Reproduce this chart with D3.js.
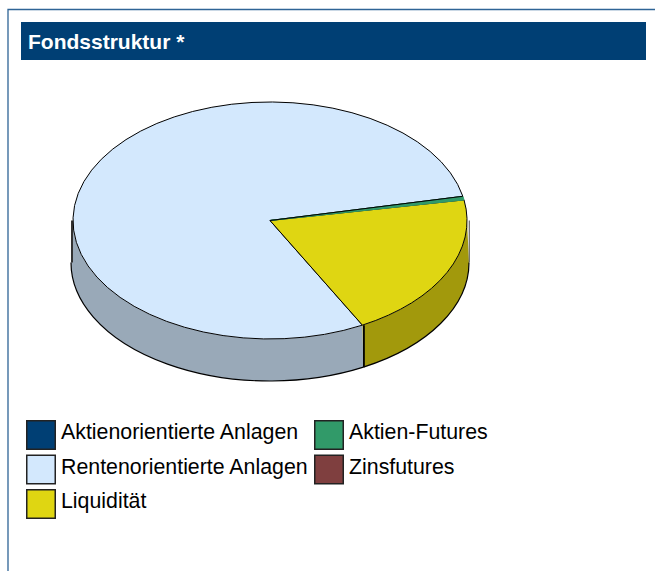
<!DOCTYPE html>
<html>
<head>
<meta charset="utf-8">
<script src="https://cdn.jsdelivr.net/npm/d3@7"></script>
<style>
html, body { margin: 0; padding: 0; background: #fff; overflow: hidden; }
text { font-family: "Liberation Sans", Arial, sans-serif; }
</style>
</head>
<body>
<div id="chart-area"></div>
<script>
// fund structure, percent
var categories = ["Aktienorientierte Anlagen", "Rentenorientierte Anlagen", "Aktien-Futures", "Zinsfutures", "Liquidität"];
var shares = [0, 79.5, 0.5, 0, 20];
var colors = ["#003f74", "#d3e8fd", "#319a69", "#7f3f3f", "#dfd612"];
var sideColors = ["#002c51", "#99a9b8", "#226b49", "#582c2c", "#a2990c"];

// legend is filled row by row, two columns
var legendOrder = [0, 2, 1, 3, 4];

var width = 655, height = 571;

var svg = d3.select("#chart-area")
    .append("svg")
        .attr("width", width)
        .attr("height", height)
        .style("display", "block");

// frame
svg.append("path")
    .attr("d", "M8,571V9.5H655")
    .attr("fill", "none")
    .attr("stroke", "#2f6496")
    .attr("stroke-width", 1.3);

// header
svg.append("rect")
    .attr("x", 21)
    .attr("y", 22)
    .attr("width", 625)
    .attr("height", 38)
    .attr("fill", "#003f74");

svg.append("text")
    .attr("x", 28)
    .attr("y", 48.5)
    .attr("font-size", "21px")
    .attr("font-weight", "bold")
    .attr("fill", "#fff")
    .text("Fondsstruktur *");

// pie
var cx = 270, cy = 220.5, rx = 197, ry = 118.5, depth = 42;
var wallRx = 199;
var startAngle = 152 * Math.PI / 180;

var pie = d3.pie()
    .sort(null)
    .startAngle(startAngle)
    .endAngle(startAngle + 2 * Math.PI);
var slices = pie(shares);

// d3 angle (0 = up, clockwise) to a point on the ellipse
function px(a, r) { return cx + (r || rx) * Math.sin(a); }
function py(a, dy) { return cy - ry * Math.cos(a) + (dy || 0); }

// parts of a slice on the lower half of the ellipse
function frontParts(d) {
    var segs = [];
    [[Math.PI / 2, 3 * Math.PI / 2], [5 * Math.PI / 2, 7 * Math.PI / 2]].forEach(function(front) {
        var a0 = Math.max(d.startAngle, front[0]),
            a1 = Math.min(d.endAngle, front[1]);
        if (a1 > a0) segs.push([a0, a1]);
    });
    return segs;
}

function wall(d) {
    return frontParts(d).map(function(s) {
        return "M" + px(s[0]) + "," + py(s[0])
            + "A" + rx + "," + ry + " 0 0 1 " + px(s[1]) + "," + py(s[1])
            + "L" + px(s[1], wallRx) + "," + py(s[1], depth)
            + "A" + wallRx + "," + ry + " 0 0 0 " + px(s[0], wallRx) + "," + py(s[0], depth)
            + "Z";
    }).join("");
}

function wallEdge(d) {
    return frontParts(d).map(function(s) {
        return "M" + px(s[0], wallRx) + "," + py(s[0], depth)
            + "A" + wallRx + "," + ry + " 0 0 1 " + px(s[1], wallRx) + "," + py(s[1], depth);
    }).join("");
}

var data = slices.filter(function(d) { return d.value > 0; });

svg.append("g").selectAll("path")
    .data(data)
    .enter().append("path")
        .attr("d", wall)
        .attr("fill", function(d) { return sideColors[d.index]; });

svg.append("g").selectAll("path")
    .data(data)
    .enter().append("path")
        .attr("d", wallEdge)
        .attr("fill", "none")
        .attr("stroke", "#000")
        .attr("stroke-width", 1.2);

// short stubs at the widest point of the wall
svg.append("path")
    .attr("d", "M" + (cx - rx - 1) + "," + cy + "V" + (cy + depth))
    .attr("stroke", "#333")
    .attr("stroke-width", 2);
svg.append("path")
    .attr("d", "M" + (cx + wallRx + 0.3) + "," + cy + "V" + (cy + depth))
    .attr("stroke", "#666")
    .attr("stroke-width", 1.2);

// divider between the two visible wall parts is heavier
var dividerAngle = slices[1].startAngle;
svg.append("path")
    .attr("d", "M" + (px(dividerAngle, wallRx) + 0.5) + "," + py(dividerAngle) + "V" + py(dividerAngle, depth))
    .attr("stroke", "#000")
    .attr("stroke-width", 1.8);

var arc = d3.arc().innerRadius(0).outerRadius(1);

// the thin slice goes last so no black edge is left between green and yellow
var drawOrder = data.slice().sort(function(a, b) { return d3.descending(a.value, b.value); });

svg.append("g")
    .attr("transform", "translate(" + cx + "," + cy + ") scale(" + rx + "," + ry + ")")
    .selectAll("path")
    .data(drawOrder)
    .enter().append("path")
        .attr("d", arc)
        .attr("fill", function(d) { return colors[d.index]; })
        .attr("stroke", function(d) { return d.value < 1 ? colors[d.index] : "#000"; })
        .attr("stroke-width", 1)
        .attr("vector-effect", "non-scaling-stroke");

// black edge above the thin slice
var thinAngle = slices[2].startAngle;
svg.append("line")
    .attr("x1", cx)
    .attr("y1", cy)
    .attr("x2", px(thinAngle))
    .attr("y2", py(thinAngle))
    .attr("stroke", "#000")
    .attr("stroke-width", 1);

// legend
var colX = [26.75, 314.75], rowY = d3.scalePoint().domain([0, 1, 2]).range([420.75, 489.75]);

var legend = svg.append("g").selectAll("g")
    .data(legendOrder)
    .enter().append("g")
        .attr("transform", function(d, i) {
            return "translate(" + colX[i % 2] + "," + rowY(Math.floor(i / 2)) + ")";
        });

legend.append("rect")
    .attr("width", 28.5)
    .attr("height", 28.5)
    .attr("fill", function(d) { return colors[d]; })
    .attr("stroke", "#222")
    .attr("stroke-width", 1.5);

legend.append("text")
    .attr("x", 34.25)
    .attr("y", 18.5)
    .attr("font-size", "21.33px")
    .attr("fill", "#000")
    .text(function(d) { return categories[d]; });
</script>
</body>
</html>
